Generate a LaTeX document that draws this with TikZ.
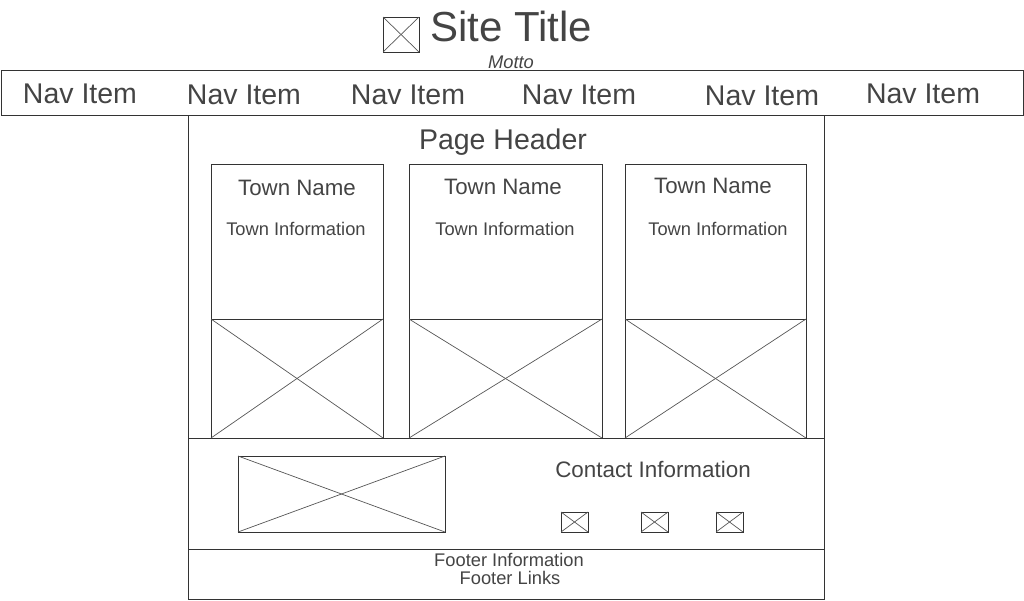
\documentclass[tikz,border=0pt]{standalone}
\usepackage{fontspec}
\setmainfont{Liberation Sans}
\definecolor{linec}{HTML}{333333}
\definecolor{textc}{HTML}{444444}
\definecolor{crossc}{HTML}{555555}
\begin{document}
\begin{tikzpicture}[x=1pt,y=-1pt,
  box/.style={draw=linec, line width=1pt, inner sep=0pt, outer sep=0pt, anchor=north west},
  txt/.style={text=textc, inner sep=0pt, font=\fontsize{#1}{#1}\selectfont},
  crossline/.style={draw=crossc, line width=0.7pt}]
\useasboundingbox (0,0) rectangle (1024,600);
% nav bar
\node[box, minimum width=1022pt, minimum height=45pt] (nav) at (1,70) {};
% main sections
\node[box, minimum width=636pt, minimum height=323pt] (content) at (188,115) {};
\node[box, minimum width=636pt, minimum height=111pt] (contact) at (188,438) {};
\node[box, minimum width=636pt, minimum height=50pt] (footer) at (188,549) {};
% cards
\node[box, minimum width=172pt, minimum height=155pt] (c1) at (211,164) {};
\node[box, minimum width=172pt, minimum height=119pt] (i1) at (211,319) {};
\node[box, minimum width=193pt, minimum height=155pt] (c2) at (409,164) {};
\node[box, minimum width=193pt, minimum height=119pt] (i2) at (409,319) {};
\node[box, minimum width=181pt, minimum height=155pt] (c3) at (625,164) {};
\node[box, minimum width=181pt, minimum height=119pt] (i3) at (625,319) {};
% contact image and icons
\node[box, minimum width=207pt, minimum height=76pt] (ci) at (238,456) {};
\node[box, minimum width=27pt, minimum height=20pt] (s1) at (561,512) {};
\node[box, minimum width=27pt, minimum height=20pt] (s2) at (641,512) {};
\node[box, minimum width=27pt, minimum height=20pt] (s3) at (716,512) {};
% logo
\node[box, minimum width=36pt, minimum height=35pt] (logo) at (383,17) {};
% crosses
\foreach \n in {i1,i2,i3,ci,s1,s2,s3,logo}{
  \draw[crossline] (\n.north west) -- (\n.south east);
  \draw[crossline] (\n.north east) -- (\n.south west);
}
% texts
\node[txt=42] (title) at (511,26) {Site Title};
\node[txt=18.3, font=\fontsize{18.3}{18.3}\selectfont\itshape] (motto) at (511,62) {Motto};
\node[txt=28.5] (n1) at (80,93.5) {Nav Item};
\node[txt=28.5] (n2) at (244,94.5) {Nav Item};
\node[txt=28.5] (n3) at (408,94.5) {Nav Item};
\node[txt=28.5] (n4) at (579,94.5) {Nav Item};
\node[txt=28.5] (n5) at (762,95.5) {Nav Item};
\node[txt=28.5] (n6) at (923,93.5) {Nav Item};
\node[txt=28.5] (ph) at (503,142.5) {Page Header};
\node[txt=22.3] (t1) at (297,188) {Town Name};
\node[txt=22.3] (t2) at (503,187) {Town Name};
\node[txt=22.3] (t3) at (713,186) {Town Name};
\node[txt=18.3] (ti1) at (296,229) {Town Information};
\node[txt=18.3] (ti2) at (505,229) {Town Information};
\node[txt=18.3] (ti3) at (718,229) {Town Information};
\node[txt=22.4] (cinfo) at (653,469) {Contact Information};
\node[txt=18.3] (f1) at (509,560) {Footer Information};
\node[txt=18.3] (f2) at (510,578) {Footer Links};
\end{tikzpicture}
\end{document}
